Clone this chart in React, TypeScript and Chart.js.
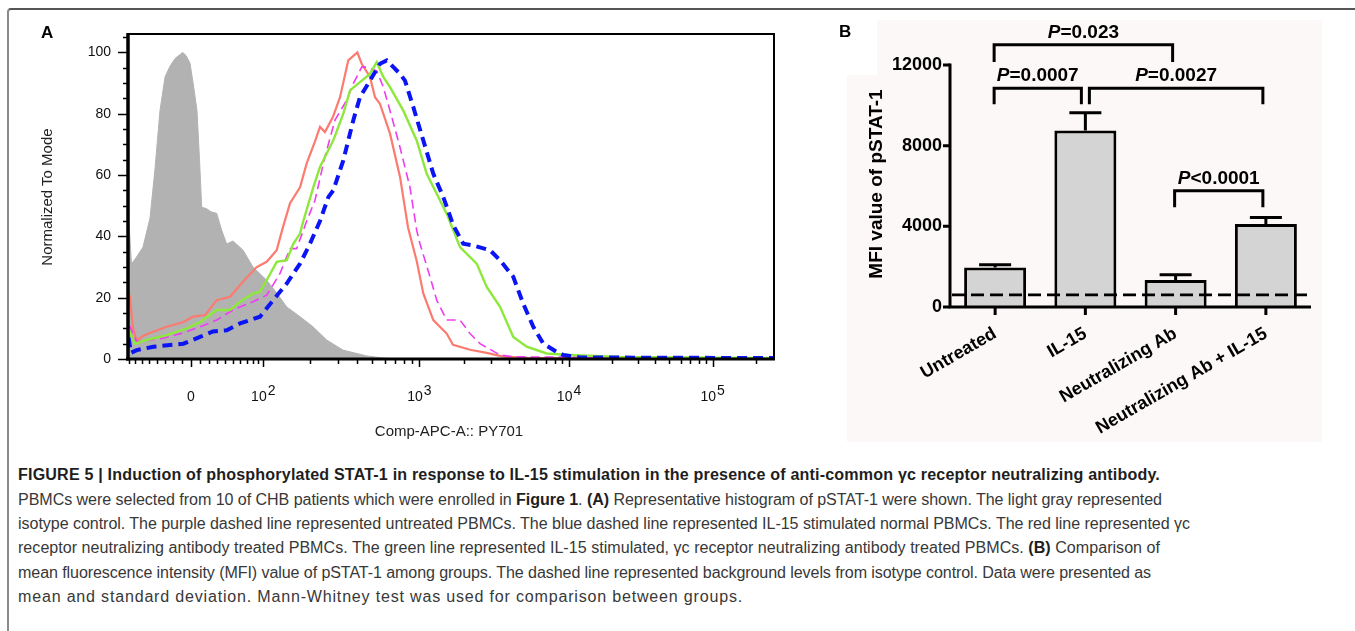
import React, { useEffect, useLayoutEffect, useRef } from 'react';
import { Chart, registerables } from 'chart.js';

Chart.register(...registerables);

const FONT = '"Liberation Sans", Arial, Helvetica, sans-serif';

// ---------- Panel A: histogram (x in display channel units 0–1000, y = % of mode) ----------
const ISOTYPE_CTRL: [number, number][] = [
  [0.8, 47], [5.4, 31], [12.4, 33], [23.2, 36.5], [34.1, 46], [41.8, 62], [49.5, 81], [57.3, 92],
  [65, 95.5], [72.8, 98], [84.7, 100], [89.8, 99], [96, 96.5], [102.2, 88], [106.8, 81], [110.7, 65],
  [114.1, 49.5], [121.8, 49], [128.5, 48], [137.3, 47.5], [145, 42], [152.8, 37.5], [162.5, 38.5],
  [170.3, 37], [178, 35.5], [193.5, 30], [214.7, 25.7], [230.2, 21.5], [245.7, 17], [266.3, 13.8],
  [286.4, 10.5], [307.6, 6.2], [332.8, 2.9], [369.5, 1], [394.7, 0.3], [421, 0],
];
const NEUTRALIZING_AB: [number, number][] = [
  [0.8, 22], [3.1, 20], [7.7, 10], [13.5, 6], [23.2, 7.5], [34.1, 8.5], [59.9, 10.5], [85.1, 12],
  [100.6, 13.8], [119.2, 14.3], [137.3, 19.2], [157.9, 20.3], [178, 25.2], [199.2, 30], [214.7, 31.7],
  [230.2, 35.5], [239.9, 43], [250.8, 50.8], [266.3, 56], [276.6, 63.8], [289.5, 71], [297.2, 75.7],
  [304.9, 74], [317.3, 79], [328.2, 85.4], [341, 97.4], [355, 100], [361.8, 96.3], [374.6, 92],
  [382.4, 85.4], [390.1, 83.2], [405.6, 73.5], [421.1, 59.4], [433.4, 43], [446.9, 32], [457.1, 21.4],
  [472.6, 12.7], [493.3, 8.3], [503.1, 4.6], [529.4, 3], [555.3, 2], [580.5, 0.8], [622.3, 0.3], [1000, 0.3],
];
const UNTREATED_H: [number, number][] = [
  [0.8, 11], [3.1, 10.5], [13.5, 5.6], [34.1, 6.2], [54.2, 6.8], [85.1, 8.5], [111.5, 10.5], [137.3, 12.7],
  [162.5, 16], [193.5, 18.7], [214.7, 20.8], [235.3, 27.9], [250.8, 36], [261.1, 36], [276.6, 45],
  [289.5, 51.8], [304.9, 66], [320.4, 77.9], [338.5, 84.4], [348.8, 89.8], [361.8, 95.2], [369.5, 95.2],
  [385, 94], [395.2, 88.7], [408.2, 79], [421.1, 69], [436.5, 56], [446.9, 42], [452, 37.6], [467.5, 26.8],
  [477.9, 19.2], [493.3, 12.7], [513.9, 12.7], [529.4, 8.3], [544.9, 5], [575.9, 1.3], [596, 0.7], [1000, 0.3],
];
const NAB_PLUS_IL15: [number, number][] = [
  [0.8, 10], [3.1, 8.3], [10.8, 5], [28.9, 6.2], [59.9, 7.8], [90.9, 10], [111.5, 12], [137.3, 16],
  [157.9, 16], [173.4, 18.7], [194, 21.4], [204.3, 21.9], [214.7, 25.7], [230.2, 31.7], [245.7, 32.2],
  [255.9, 37.6], [266.3, 40.9], [271.4, 45], [286.8, 56], [297.2, 62.6], [317.8, 71.3], [333.3, 80],
  [343.7, 87.6], [359.1, 90.3], [374.6, 93], [385, 96.8], [395.2, 92], [405.6, 88.7], [426.2, 81],
  [446.9, 71.3], [462.4, 60.4], [477.9, 53.9], [493.3, 47.4], [503.6, 42], [513.9, 36.5], [539.8, 31.1],
  [555.3, 23.5], [575.9, 17], [596.4, 7.2], [617.2, 4], [648.1, 1.8], [684.2, 1.3], [761.6, 0.7], [1000, 0.3],
];
const IL15_H: [number, number][] = [
  [0.8, 7], [4.6, 2], [13.5, 2.9], [39.2, 4], [85.6, 5], [111.5, 7.2], [131.6, 9], [152.8, 9.4],
  [173.4, 11.6], [204.3, 13.8], [224.9, 19.2], [245.7, 24.6], [266.3, 31.1], [281.7, 37.6], [297.2, 45],
  [310.1, 52.8], [317.8, 55], [333.3, 64.8], [348.8, 77.9], [359.1, 85.4], [374.6, 90.8], [390.1, 96.3],
  [400.5, 97.4], [421.1, 93], [428.8, 90.8], [441.6, 82.2], [457.1, 71.3], [472.6, 60.4], [488.1, 52.8],
  [503.6, 43.6], [519, 37.6], [534.5, 37], [560.4, 35.5], [575.9, 32.2], [596.4, 26.8], [611.9, 18],
  [627.4, 10.5], [642.9, 5], [663.6, 2.3], [673.8, 1.3], [699.7, 0.5], [1000, 0.3],
];

const Y_A_LABELS = [0, 20, 40, 60, 80, 100];
const Y_A_MINOR_STEP = 5;
const Y_A_MAX = 106;
const X_A_LABELS: { value: number; base: string; exp?: string }[] = [
  { value: 0, base: '0' },
  { value: 100, base: '10', exp: '2' },
  { value: 1000, base: '10', exp: '3' },
  { value: 10000, base: '10', exp: '4' },
  { value: 100000, base: '10', exp: '5' },
];
const X_A_MINOR = [
  -80, -70, -60, -50, -40, -30, -20, -10, 10, 20, 30, 40, 50, 60, 70, 80, 90,
  200, 300, 400, 500, 600, 700, 800, 900, 2000, 3000, 4000, 5000, 6000, 7000, 8000, 9000,
  20000, 30000, 40000, 50000, 60000, 70000, 80000, 90000, 200000,
];

// biexponential display calibration (fluorescence -> channel)
const DECADE_CHANNELS: [number, number][] = [[2, 209.4], [3, 451], [4, 682.7], [5, 905]];
const ZERO_CHANNEL = 97.5;
const LIN_GAIN = 97.6;
const LIN_WIDTH = 70;
function toChannel(v: number): number {
  if (v < 100) return ZERO_CHANNEL + LIN_GAIN * Math.asinh(v / LIN_WIDTH);
  const d = Math.log10(v);
  for (let i = 0; i < DECADE_CHANNELS.length - 1; i++) {
    const [d0, c0] = DECADE_CHANNELS[i];
    const [d1, c1] = DECADE_CHANNELS[i + 1];
    if (d <= d1) return c0 + ((d - d0) * (c1 - c0)) / (d1 - d0);
  }
  const [dp, cp] = DECADE_CHANNELS[DECADE_CHANNELS.length - 2];
  const [dl, cl] = DECADE_CHANNELS[DECADE_CHANNELS.length - 1];
  return cl + ((d - dl) * (cl - cp)) / (dl - dp);
}

// ---------- Panel B: bar chart ----------
const GROUPS = ['Untreated', 'IL-15', 'Neutralizing Ab', 'Neutralizing Ab + IL-15'];
const MFI_MEAN = [1960, 8750, 1340, 4110];
const MFI_SD = [140, 880, 260, 330];
const ISOTYPE_BACKGROUND = 600;
const Y_B_TICKS = [0, 4000, 8000, 12000];
const COMPARISONS = [
  { a: 0, b: 2, top: 13000, leg: 12150, p: '=0.023' },
  { a: 0, b: 1, top: 10850, leg: 10050, p: '=0.0007' },
  { a: 1, b: 3, top: 10850, leg: 10050, p: '=0.0027' },
  { a: 2, b: 3, top: 5760, leg: 4950, p: '<0.0001' },
];

// ---------- Caption ----------
const CAPTION: [string, boolean][][] = [
  [['FIGURE 5 | Induction of phosphorylated STAT-1 in response to IL-15 stimulation in the presence of anti-common γc receptor neutralizing antibody.', true]],
  [['PBMCs were selected from 10 of CHB patients which were enrolled in ', false], ['Figure 1', true], ['. ', false], ['(A)', true], [' Representative histogram of pSTAT-1 were shown. The light gray represented', false]],
  [['isotype control. The purple dashed line represented untreated PBMCs. The blue dashed line represented IL-15 stimulated normal PBMCs. The red line represented γc', false]],
  [['receptor neutralizing antibody treated PBMCs. The green line represented IL-15 stimulated, γc receptor neutralizing antibody treated PBMCs. ', false], ['(B)', true], [' Comparison of', false]],
  [['mean fluorescence intensity (MFI) value of pSTAT-1 among groups. The dashed line represented background levels from isotype control. Data were presented as', false]],
  [['mean and standard deviation. Mann-Whitney test was used for comparison between groups.', false]],
];
const CAPTION_WIDTHS = [1142, 1144, 1172, 1142, 1133, 725];
const CAPTION_CENTERS = [475, 499.7, 524, 548.3, 572.6, 597];

const histPlugin = {
  id: 'histAxes',
  afterDraw(chart: any) {
    const { ctx, chartArea, scales } = chart;
    const { left, right, top, bottom } = chartArea;
    const x = scales.x;
    const y = scales.y;
    ctx.save();
    ctx.strokeStyle = '#000';
    ctx.lineWidth = 2;
    ctx.beginPath();
    ctx.moveTo(left, top);
    ctx.lineTo(right, top);
    ctx.lineTo(right, bottom);
    ctx.stroke();
    ctx.lineWidth = 3.5;
    ctx.beginPath();
    ctx.moveTo(left, top - 1);
    ctx.lineTo(left, bottom + 1.5);
    ctx.stroke();
    ctx.lineWidth = 3;
    ctx.beginPath();
    ctx.moveTo(left - 2, bottom);
    ctx.lineTo(right + 1, bottom);
    ctx.stroke();
    // y ticks
    ctx.lineWidth = 1.5;
    ctx.beginPath();
    for (let v = 0; v < Y_A_MAX; v += Y_A_MINOR_STEP) {
      const py = Math.round(y.getPixelForValue(v)) + 0.5;
      const len = v % 20 === 0 ? 10 : 5;
      ctx.moveTo(left - len, py);
      ctx.lineTo(left, py);
    }
    ctx.stroke();
    // x ticks
    ctx.beginPath();
    X_A_MINOR.forEach((v) => {
      const px = Math.round(x.getPixelForValue(toChannel(v))) + 0.5;
      if (px < left || px > right) return;
      ctx.moveTo(px, bottom);
      ctx.lineTo(px, bottom + 5);
    });
    X_A_LABELS.forEach((t) => {
      const px = Math.round(x.getPixelForValue(toChannel(t.value))) + 0.5;
      ctx.moveTo(px, bottom);
      ctx.lineTo(px, bottom + 8);
    });
    ctx.stroke();
    // x labels
    ctx.fillStyle = '#111';
    ctx.textBaseline = 'alphabetic';
    ctx.textAlign = 'left';
    ctx.font = `14px ${FONT}`;
    X_A_LABELS.forEach((t) => {
      const px = x.getPixelForValue(toChannel(t.value));
      const wb = ctx.measureText(t.base).width;
      const we = t.exp ? ctx.measureText(t.exp).width + 1 : 0;
      const x0 = px - (wb + we) / 2;
      ctx.fillText(t.base, x0, bottom + 42);
      if (t.exp) ctx.fillText(t.exp, x0 + wb + 1, bottom + 36);
    });
    ctx.restore();
  },
};

function drawP(ctx: CanvasRenderingContext2D, rest: string, cx: number, cy: number) {
  const fi = `italic bold 19px ${FONT}`;
  const fb = `bold 19px ${FONT}`;
  ctx.font = fi;
  const wp = ctx.measureText('P').width;
  ctx.font = fb;
  const wr = ctx.measureText(rest).width;
  const x0 = cx - (wp + wr) / 2;
  ctx.textAlign = 'left';
  ctx.textBaseline = 'middle';
  ctx.font = fi;
  ctx.fillText('P', x0, cy);
  ctx.font = fb;
  ctx.fillText(rest, x0 + wp, cy);
}

const barPlugin = {
  id: 'barExtras',
  afterDatasetsDraw(chart: any) {
    const { ctx, chartArea, scales } = chart;
    const x = scales.x;
    const y = scales.y;
    ctx.save();
    ctx.strokeStyle = '#000';
    ctx.lineWidth = 3;
    // error bars (upper)
    MFI_MEAN.forEach((m, i) => {
      const px = x.getPixelForValue(i);
      const y0 = y.getPixelForValue(m);
      const y1 = y.getPixelForValue(m + MFI_SD[i]);
      ctx.beginPath();
      ctx.moveTo(px, y0);
      ctx.lineTo(px, y1);
      ctx.moveTo(px - 16, y1);
      ctx.lineTo(px + 16, y1);
      ctx.stroke();
    });
    // background dashed line
    const yb = y.getPixelForValue(ISOTYPE_BACKGROUND);
    ctx.setLineDash([13, 6]);
    ctx.lineWidth = 2.8;
    ctx.beginPath();
    ctx.moveTo(chartArea.left + 2, yb);
    ctx.lineTo(chartArea.right - 3, yb);
    ctx.stroke();
    ctx.setLineDash([]);
    ctx.restore();
  },
  afterDraw(chart: any) {
    const { ctx, chartArea, scales } = chart;
    const x = scales.x;
    const y = scales.y;
    const { left, right, bottom } = chartArea;
    ctx.save();
    ctx.strokeStyle = '#000';
    ctx.fillStyle = '#000';
    ctx.lineWidth = 3;
    ctx.lineCap = 'butt';
    // axes
    ctx.beginPath();
    ctx.moveTo(left, y.getPixelForValue(12000) - 1.5);
    ctx.lineTo(left, bottom);
    ctx.lineTo(right, bottom);
    ctx.stroke();
    ctx.beginPath();
    Y_B_TICKS.forEach((v) => {
      const py = y.getPixelForValue(v);
      ctx.moveTo(left - 7, py);
      ctx.lineTo(left, py);
    });
    GROUPS.forEach((_, i) => {
      const px = x.getPixelForValue(i);
      ctx.moveTo(px, bottom);
      ctx.lineTo(px, bottom + 8);
    });
    ctx.stroke();
    // significance brackets
    COMPARISONS.forEach((c, k) => {
      const shared = (idx: number) =>
        COMPARISONS.some((o, j) => j !== k && o.top === c.top && (o.a === idx || o.b === idx));
      const xa = x.getPixelForValue(c.a) + (shared(c.a) ? 4 : -1);
      const xb = x.getPixelForValue(c.b) - (shared(c.b) ? 4 : 3);
      const yt = y.getPixelForValue(c.top);
      const yl = y.getPixelForValue(c.leg);
      ctx.lineJoin = 'miter';
      ctx.beginPath();
      ctx.moveTo(xa, yl);
      ctx.lineTo(xa, yt);
      ctx.lineTo(xb, yt);
      ctx.lineTo(xb, yl);
      ctx.stroke();
      drawP(ctx, c.p, (xa + xb) / 2, yt - 12);
    });
    ctx.restore();
  },
};

export default function App() {
  const refA = useRef<HTMLCanvasElement>(null);
  const refB = useRef<HTMLCanvasElement>(null);
  const lineRefs = useRef<(HTMLSpanElement | null)[]>([]);

  useEffect(() => {
    const lineDs = (label: string, pts: [number, number][], color: string, width: number, dash: number[], order: number) => ({
      label,
      data: pts.map(([x, y]) => ({ x, y })),
      borderColor: color,
      backgroundColor: color,
      borderWidth: width,
      borderDash: dash,
      borderCapStyle: 'butt',
      pointRadius: 0,
      tension: 0,
      fill: false,
      order,
    });
    const chartA = new Chart(refA.current!, {
      type: 'line',
      data: {
        datasets: [
          {
            label: 'Isotype control',
            data: ISOTYPE_CTRL.map(([x, y]) => ({ x, y })),
            borderColor: '#b2b2b2',
            backgroundColor: '#b2b2b2',
            borderWidth: 1,
            pointRadius: 0,
            fill: 'origin',
            order: 10,
          } as any,
          lineDs('Neutralizing Ab', NEUTRALIZING_AB, '#fb7b70', 2.2, [], 4),
          lineDs('Untreated', UNTREATED_H, '#f03cf0', 1.6, [9, 5], 3),
          lineDs('Neutralizing Ab + IL-15', NAB_PLUS_IL15, '#8ee83c', 2.4, [], 2),
          lineDs('IL-15', IL15_H, '#0a14f5', 4, [10, 6], 1),
        ],
      },
      options: {
        animation: false,
        responsive: false,
        events: [],
        layout: { padding: { top: 34, right: 26, left: 0, bottom: 0 } },
        plugins: { legend: { display: false }, tooltip: { enabled: false } },
        scales: {
          x: {
            type: 'linear',
            min: 0,
            max: 1000,
            grid: { display: false, drawTicks: false },
            border: { display: false },
            ticks: { display: false },
            afterFit: (s: any) => { s.height = 101; },
          },
          y: {
            type: 'linear',
            min: 0,
            max: Y_A_MAX,
            afterBuildTicks: (s: any) => { s.ticks = Y_A_LABELS.map((v) => ({ value: v })); },
            grid: { display: false, drawTicks: false },
            border: { display: false },
            ticks: { padding: 17, color: '#111', font: { size: 14, family: FONT }, callback: (v: any) => String(v) },
            afterFit: (s: any) => { s.width = 128; },
          },
        },
      } as any,
      plugins: [histPlugin],
    });

    const chartB = new Chart(refB.current!, {
      type: 'bar',
      data: {
        labels: GROUPS,
        datasets: [
          {
            label: 'MFI',
            data: MFI_MEAN,
            backgroundColor: '#d4d4d4',
            borderColor: '#000',
            borderWidth: 3,
            borderSkipped: 'start',
            barPercentage: 0.687,
            categoryPercentage: 1,
          } as any,
        ],
      },
      options: {
        animation: false,
        responsive: false,
        events: [],
        layout: { padding: { top: 55, right: 29, left: 0, bottom: 0 } },
        plugins: { legend: { display: false }, tooltip: { enabled: false } },
        scales: {
          x: {
            grid: { display: false, drawTicks: false },
            border: { display: false },
            ticks: {
              minRotation: 30,
              maxRotation: 30,
              autoSkip: false,
              padding: 16,
              color: '#000',
              font: { size: 18, weight: 'bold', family: FONT },
            },
            afterFit: (s: any) => { s.height = 143; },
          },
          y: {
            min: 0,
            max: 12000,
            afterBuildTicks: (s: any) => { s.ticks = Y_B_TICKS.map((v) => ({ value: v })); },
            grid: { display: false, drawTicks: false },
            border: { display: false },
            ticks: { padding: 8, color: '#000', font: { size: 18, weight: 'bold', family: FONT }, callback: (v: any) => String(v) },
            afterFit: (s: any) => { s.width = 110; },
          },
        },
      } as any,
      plugins: [barPlugin],
    });
    return () => {
      chartA.destroy();
      chartB.destroy();
    };
  }, []);

  useLayoutEffect(() => {
    // fit each caption line to the reference width with a shared glyph scale plus letter spacing
    const els = lineRefs.current;
    const widths = els.map((el) => (el ? el.getBoundingClientRect().width : 0));
    const ratios = widths.map((w, i) => (w > 0 ? CAPTION_WIDTHS[i] / w : 1));
    const common = ratios.slice(0, 5).reduce((a, b) => a + b, 0) / 5;
    els.forEach((el, i) => {
      if (!el || widths[i] <= 0) return;
      const n = (el.textContent || '').length;
      const extra = (CAPTION_WIDTHS[i] / common - widths[i]) / Math.max(n, 1);
      el.style.letterSpacing = `${extra}px`;
      el.style.transform = `scaleX(${common})`;
    });
  }, []);

  const abs = (o: React.CSSProperties): React.CSSProperties => ({ position: 'absolute', ...o });

  return (
    <div style={abs({ left: 0, top: 0, width: 1355, height: 631, background: '#fff', overflow: 'hidden', fontFamily: FONT })}>
      <div style={abs({ left: 7, top: 8, width: 1400, height: 700, borderTop: '2px solid #555', borderLeft: '2px solid #8a8a8a', borderTopLeftRadius: 4 })} />
      <div style={abs({ left: 877, top: 20, width: 445, height: 422, background: '#fcf8f7' })} />
      <div style={abs({ left: 847, top: 75, width: 31, height: 367, background: '#fcf8f7' })} />
      <canvas ref={refA} width={800} height={460} style={abs({ left: 0, top: 0, width: 800, height: 460 })} />
      <canvas ref={refB} width={500} height={440} style={abs({ left: 840, top: 10, width: 500, height: 440 })} />

      <div style={abs({ left: 41, top: 23, fontWeight: 'bold', fontSize: 17, lineHeight: '20px', color: '#000' })}>A</div>
      <div style={abs({ left: 839, top: 22, fontWeight: 'bold', fontSize: 17, lineHeight: '20px', color: '#000' })}>B</div>

      <div style={abs({ left: 47 - 150, top: 197 - 10, width: 300, height: 20, lineHeight: '20px', textAlign: 'center', fontSize: 15, color: '#222', transform: 'rotate(-90deg)', whiteSpace: 'nowrap' })}>
        Normalized To Mode
      </div>
      <div style={abs({ left: 449 - 150, top: 431 - 10, width: 300, height: 20, lineHeight: '20px', textAlign: 'center', fontSize: 15, color: '#222', whiteSpace: 'nowrap' })}>
        Comp-APC-A:: PY701
      </div>
      <div style={abs({ left: 876 - 150, top: 184 - 12, width: 300, height: 24, lineHeight: '24px', textAlign: 'center', fontSize: 19, fontWeight: 'bold', color: '#000', transform: 'rotate(-90deg)', whiteSpace: 'nowrap' })}>
        MFI value of pSTAT-1
      </div>

      {CAPTION.map((parts, i) => (
        <div key={i} style={abs({ left: 18, top: CAPTION_CENTERS[i] - 11, height: 22, lineHeight: '22px', whiteSpace: 'nowrap' })}>
          <span
            ref={(el) => { lineRefs.current[i] = el; }}
            style={{ display: 'inline-block', transformOrigin: 'left center', fontSize: 16, color: '#383838', whiteSpace: 'pre' }}
          >
            {parts.map(([t, b], j) => (
              <span key={j} style={{ fontWeight: b ? 'bold' : 'normal', color: b ? '#1e1e1e' : '#383838' }}>{t}</span>
            ))}
          </span>
        </div>
      ))}
    </div>
  );
}
